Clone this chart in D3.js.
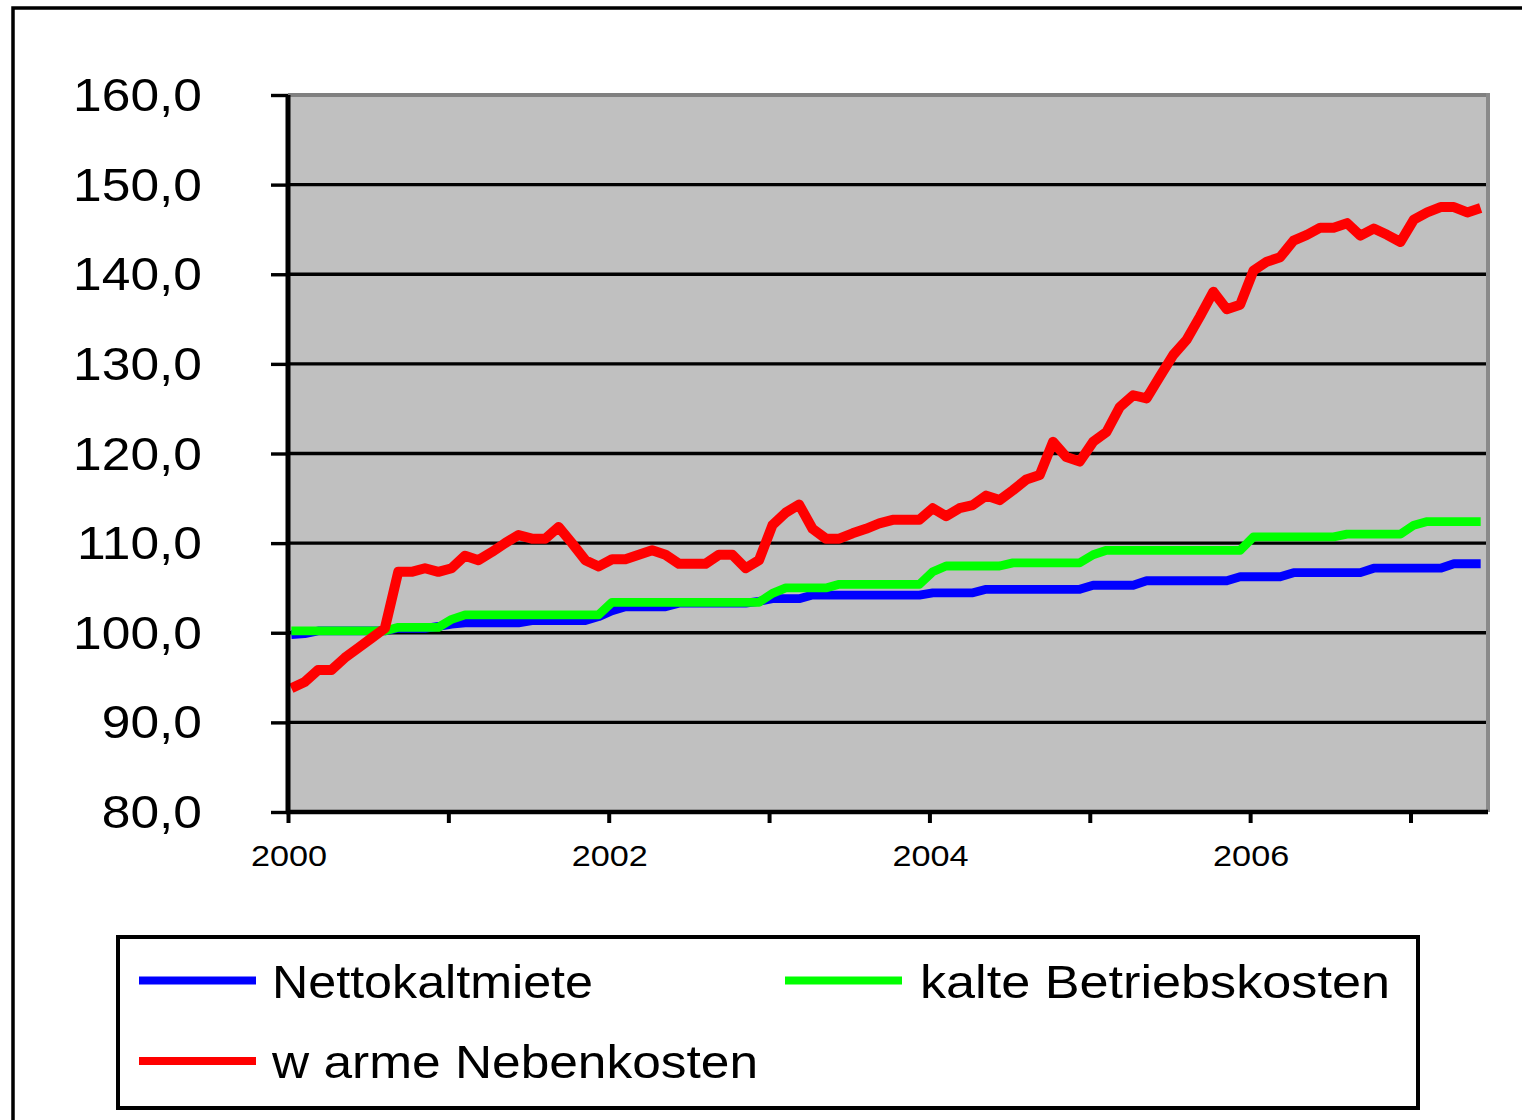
<!DOCTYPE html>
<html><head><meta charset="utf-8">
<script src="https://cdn.jsdelivr.net/npm/d3@7/dist/d3.min.js"></script>
<style>
body{margin:0;background:#fff;}
svg{display:block;}
text{font-family:"Liberation Sans",Arial,Helvetica,sans-serif;fill:#000;}
</style>
</head><body>
<svg id="chart" width="1522" height="1120"></svg>
<script>
// ---- data (monthly index values, Jan 2000 = month 0) ----
const seriesNames = ["Nettokaltmiete", "kalte Betriebskosten", "w arme Nebenkosten"];
const seriesColors = ["#0000ff", "#00ff00", "#ff0000"];

const nettokaltmiete = [
  99.8, 99.9, 100.2, 100.2, 100.2, 100.2, 100.2, 100.2, 100.5, 100.5,
  100.5, 100.7, 100.95, 101.1, 101.1, 101.1, 101.1, 101.1, 101.35, 101.35,
  101.35, 101.35, 101.35, 101.8, 102.45, 102.9, 102.9, 102.9, 102.9, 103.3,
  103.3, 103.3, 103.3, 103.3, 103.3, 103.5, 103.8, 103.8, 103.8, 104.2,
  104.2, 104.2, 104.2, 104.2, 104.2, 104.2, 104.2, 104.2, 104.45, 104.45,
  104.45, 104.45, 104.85, 104.85, 104.85, 104.85, 104.85, 104.85, 104.85, 104.85,
  105.3, 105.3, 105.3, 105.3, 105.8, 105.8, 105.8, 105.8, 105.8, 105.8,
  105.8, 106.25, 106.25, 106.25, 106.25, 106.7, 106.7, 106.7, 106.7, 106.7,
  106.7, 107.2, 107.2, 107.2, 107.2, 107.2, 107.2, 107.7, 107.7, 107.7
];
const kalteBetriebskosten = [
  100.2, 100.2, 100.2, 100.2, 100.2, 100.2, 100.2, 100.2, 100.6, 100.6,
  100.6, 100.6, 101.5, 102.0, 102.0, 102.0, 102.0, 102.0, 102.0, 102.0,
  102.0, 102.0, 102.0, 102.0, 103.4, 103.4, 103.4, 103.4, 103.4, 103.4,
  103.4, 103.4, 103.4, 103.4, 103.4, 103.4, 104.4, 105.0, 105.0, 105.0,
  105.0, 105.4, 105.4, 105.4, 105.4, 105.4, 105.4, 105.4, 106.8, 107.45,
  107.45, 107.45, 107.45, 107.45, 107.8, 107.8, 107.8, 107.8, 107.8, 107.8,
  108.7, 109.2, 109.2, 109.2, 109.2, 109.2, 109.2, 109.2, 109.2, 109.2,
  109.2, 109.2, 110.7, 110.7, 110.7, 110.7, 110.7, 110.7, 110.7, 111.0,
  111.0, 111.0, 111.0, 111.0, 112.0, 112.4, 112.4, 112.4, 112.4, 112.4
];
const warmeNebenkosten = [
  93.8, 94.5, 95.85, 95.85, 97.2, 98.3, 99.4, 100.5, 106.8, 106.8,
  107.2, 106.8, 107.2, 108.6, 108.1, 109.0, 110.0, 110.9, 110.5, 110.5,
  111.8, 110.0, 108.1, 107.4, 108.2, 108.2, 108.7, 109.2, 108.7, 107.7,
  107.7, 107.7, 108.7, 108.7, 107.2, 108.1, 112.0, 113.4, 114.3, 111.6,
  110.5, 110.5, 111.1, 111.6, 112.2, 112.6, 112.6, 112.6, 113.9, 113.0,
  113.9, 114.25, 115.3, 114.8, 115.9, 117.1, 117.6, 121.3, 119.6, 119.1,
  121.3, 122.4, 125.2, 126.5, 126.15, 128.6, 131.0, 132.7, 135.3, 138.05,
  136.1, 136.6, 140.4, 141.4, 141.9, 143.75, 144.4, 145.2, 145.2, 145.7,
  144.3, 145.1, 144.4, 143.6, 146.1, 146.9, 147.5, 147.5, 146.9, 147.4
];

const yTicks = [80, 90, 100, 110, 120, 130, 140, 150, 160];
const xTickMonths = [0, 12, 24, 36, 48, 60, 72, 84];
const xTickLabels = ["2000", "", "2002", "", "2004", "", "2006", ""];

// ---- layout ----
const svg = d3.select("#chart");
const L = 288, R = 1488, T = 95, B = 812;
const pointOffset = 0.25; // data points sit slightly right of the month tick

const x = d3.scaleLinear().domain([0, 89.8]).range([L, R]);
const y = d3.scaleLinear().domain([80, 160]).range([B, T]);
const fmt = d3.formatLocale({decimal: ",", thousands: ".", grouping: [3], currency: ["", " €"]}).format(".1f");

// outer chart frame
svg.append("rect").attr("x", 13).attr("y", 8).attr("width", 1600).attr("height", 1300)
  .attr("fill", "#fff").attr("stroke", "#000").attr("stroke-width", 3.5);

// plot area
svg.append("rect").attr("x", L).attr("y", T).attr("width", R - L).attr("height", B - T)
  .attr("fill", "#c0c0c0");

// gridlines
svg.append("g").selectAll("line").data(yTicks.filter(d => d > 80 && d < 160)).join("line")
  .attr("x1", L).attr("x2", R - 2).attr("y1", d => y(d)).attr("y2", d => y(d))
  .attr("stroke", "#000").attr("stroke-width", 3.4);

// top / right plot border (gray)
svg.append("line").attr("x1", L).attr("x2", R).attr("y1", T).attr("y2", T)
  .attr("stroke", "#808080").attr("stroke-width", 4);
svg.append("line").attr("x1", R).attr("x2", R).attr("y1", T - 2).attr("y2", B)
  .attr("stroke", "#8a8a8a").attr("stroke-width", 4);

// series lines
const series = [nettokaltmiete, kalteBetriebskosten, warmeNebenkosten];
const line = d3.line().x((d, i) => x(i + pointOffset)).y(d => y(d));
svg.append("g").selectAll("path").data(series).join("path")
  .attr("d", line)
  .attr("fill", "none")
  .attr("stroke", (d, i) => seriesColors[i])
  .attr("stroke-width", (d, i) => i === 2 ? 10 : 8.8)
  .attr("stroke-linejoin", "round")
  .attr("stroke-linecap", "butt");

// y axis
const yAxis = svg.append("g").attr("transform", `translate(${L},0)`)
  .call(d3.axisLeft(y).tickValues(yTicks).tickSize(17).tickFormat(""));
yAxis.select(".domain").attr("stroke", "#000").attr("stroke-width", 5).attr("d", `M0,${T}V${B + 2}`);
yAxis.selectAll(".tick line").attr("stroke", "#000").attr("stroke-width", 3.4);

// y labels (slightly wide glyphs as in reference)
svg.append("g").selectAll("text").data(yTicks).join("text")
  .attr("transform", d => `translate(202,${y(d) + 16}) scale(1.12,1)`)
  .attr("text-anchor", "end")
  .attr("font-size", 46)
  .text(d => fmt(d));

// x axis
const xAxis = svg.append("g").attr("transform", `translate(0,${B})`)
  .call(d3.axisBottom(x).tickValues(xTickMonths).tickSize(11).tickFormat(""));
xAxis.select(".domain").attr("stroke", "#000").attr("stroke-width", 4.5).attr("d", `M${L - 2},0H${R}`);
xAxis.selectAll(".tick line").attr("stroke", "#000").attr("stroke-width", 4);

svg.append("g").selectAll("text").data(xTickMonths).join("text")
  .attr("transform", d => `translate(${x(d) + 1},866) scale(1.18,1)`)
  .attr("text-anchor", "middle")
  .attr("font-size", 29)
  .text((d, i) => xTickLabels[i]);

// legend
const lg = svg.append("g");
lg.append("rect").attr("x", 118).attr("y", 937).attr("width", 1300).attr("height", 171)
  .attr("fill", "#fff").attr("stroke", "#000").attr("stroke-width", 4);
const legendItems = [
  {name: seriesNames[0], color: seriesColors[0], lx: 139, ly: 980.5, tx: 272, tw: 321},
  {name: seriesNames[1], color: seriesColors[1], lx: 785, ly: 980.5, tx: 920, tw: 470},
  {name: seriesNames[2], color: seriesColors[2], lx: 139, ly: 1061, tx: 272, tw: 486}
];
legendItems.forEach(it => {
  lg.append("line").attr("x1", it.lx).attr("x2", it.lx + 117).attr("y1", it.ly).attr("y2", it.ly)
    .attr("stroke", it.color).attr("stroke-width", 8);
  lg.append("text").attr("x", it.tx).attr("y", it.ly + 17).attr("font-size", 46)
    .attr("textLength", it.tw).attr("lengthAdjust", "spacingAndGlyphs")
    .text(it.name);
});
</script>
</body></html>
